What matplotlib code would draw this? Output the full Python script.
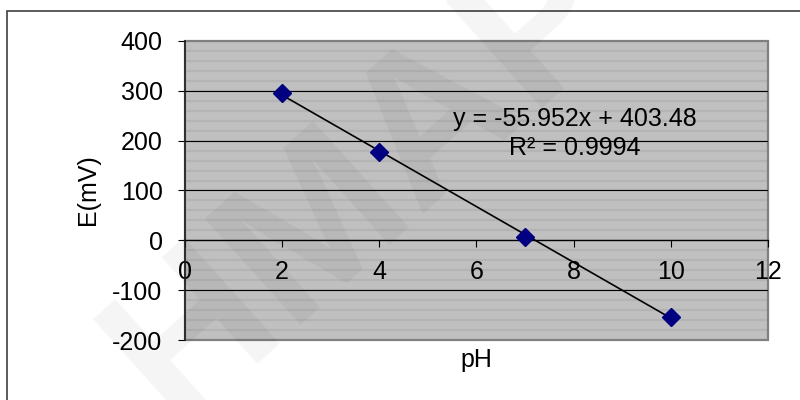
"""
Electrode calibration: potential vs pH with linear trendline
"""
import matplotlib.pyplot as plt
from matplotlib.patches import Rectangle
import numpy as np

plt.rcParams['font.family'] = ['Liberation Sans', 'DejaVu Sans']
plt.rcParams['axes.unicode_minus'] = False

# measured points
ph = [2, 4, 7, 10]
e_mv = [295, 177, 6, -153]

# fitted line as reported on the chart
slope = -55.952
intercept = 403.48
r2 = 0.9994

x_ticks = [0, 2, 4, 6, 8, 10, 12]
y_ticks = [-200, -100, 0, 100, 200, 300, 400]

fs = 18

fig = plt.figure(figsize=(8, 4), dpi=100)
ax = fig.add_axes([0.231, 0.15, 0.729, 0.7475])

ax.set_facecolor('#c0c0c0')
ax.set_xlim(0, 12)
ax.set_ylim(-200, 400)

# light minor stripes every 20 mV, black major lines every 100
for yv in np.arange(-200, 401, 20):
    ax.axhline(yv, color='#b4b4b4', lw=1.6, zorder=0.5)
for yv in y_ticks[1:-1]:
    ax.axhline(yv, color='black', lw=0.8, zorder=1)

# trendline and points
fx = np.array([ph[0], ph[-1]])
ax.plot(fx, slope * fx + intercept, color='black', lw=1.2, zorder=3)
ax.plot(ph, e_mv, linestyle='none', marker='D', markersize=9,
        color='#000080', markeredgecolor='#000080', zorder=4)

ax.text(8.03, 243, 'y = %.3fx + %.2f' % (slope, intercept), fontsize=fs,
        ha='center', va='center')
ax.text(8.03, 186, 'R² = %.4f' % r2, fontsize=fs, ha='center', va='center')

# axes: x axis crosses at zero
for s in ['top', 'right']:
    ax.spines[s].set_visible(False)
ax.spines['bottom'].set_position(('data', 0))
ax.spines['bottom'].set_color('black')
ax.spines['bottom'].set_linewidth(0.9)
ax.spines['left'].set_color('#202020')
ax.spines['left'].set_linewidth(1.2)
ax.add_patch(Rectangle((0, 0), 1, 1, transform=ax.transAxes, fill=False,
                       edgecolor='#808080', lw=1.6, clip_on=False, zorder=0.8))

ax.set_xticks(x_ticks)
ax.set_yticks(y_ticks)
ax.tick_params(axis='x', direction='out', length=5, width=0.8, pad=9,
               labelsize=fs)
ax.tick_params(axis='y', direction='out', length=5, width=0.8, pad=11,
               labelsize=fs)

fig.text(0.11, 0.525, 'E(mV)', rotation=90, fontsize=fs,
         ha='center', va='center')
fig.text(0.596, 0.10, 'pH', fontsize=fs, ha='center', va='center')

# chart border (open on right and bottom edges)
fig.add_artist(Rectangle((7 / 800, -0.1), 1.2, (400 - 11) / 400 + 0.1,
                         transform=fig.transFigure, fill=False,
                         edgecolor='#404040', lw=1.2))

# faint watermark across the chart
fig.text(0.46, 0.55, 'HMAP', fontsize=150, fontweight='bold', rotation=42,
         color='black', alpha=0.045, ha='center', va='center', zorder=10)

fig.savefig('out.png', dpi=100)
